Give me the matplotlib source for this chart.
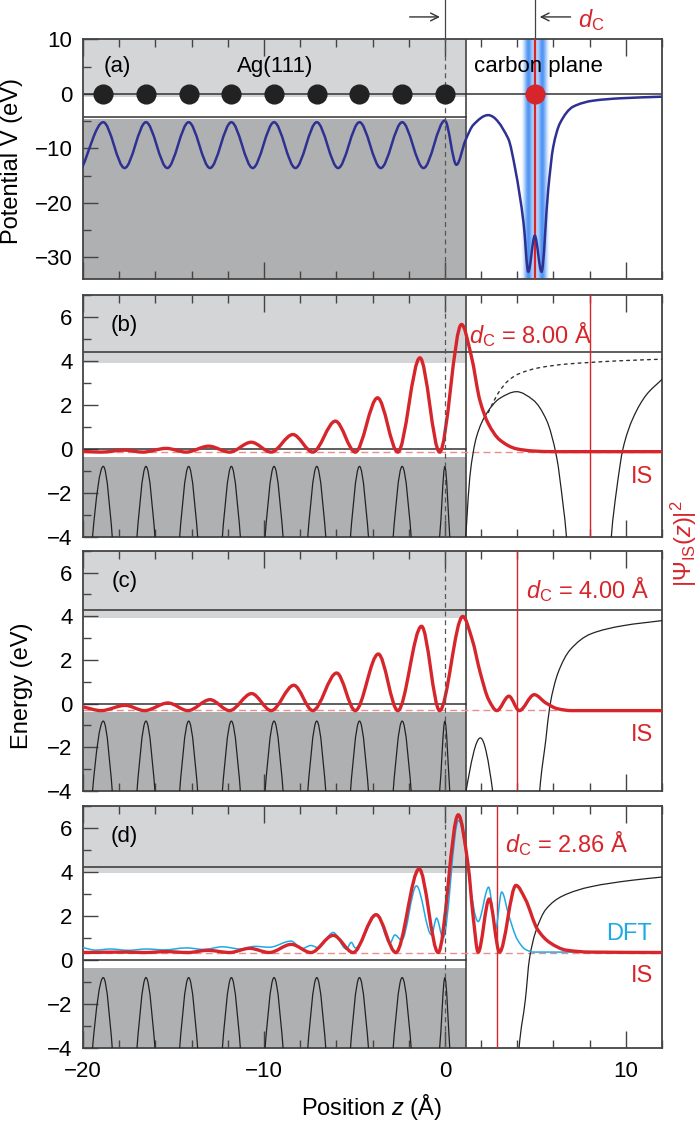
import numpy as np
import matplotlib.pyplot as plt
from matplotlib.path import Path
from matplotlib.patches import PathPatch
from matplotlib.ticker import MultipleLocator

plt.rcParams['font.family'] = ['Liberation Sans', 'DejaVu Sans']
plt.rcParams['mathtext.fontset'] = 'custom'
plt.rcParams['mathtext.rm'] = 'Liberation Sans'
plt.rcParams['mathtext.it'] = 'Liberation Sans:italic'
plt.rcParams['mathtext.bf'] = 'Liberation Sans:bold'

# ---- values ----
# Ag(111) atom positions (A)
atom_z = [-18.88, -16.52, -14.16, -11.80, -9.44, -7.08, -4.72, -2.36, 0.0]
d_c_a = 4.97

# (a) model potential V(z), knots at extrema / read points
pot_z = [-20.06, -18.88, -17.70, -16.52, -15.34, -14.16, -12.98, -11.80, -10.62, -9.44,
         -8.26, -7.08, -5.90, -4.72, -3.54, -2.36, -1.18, 0.00, 0.64, 1.14, 1.57, 2.39,
         3.50, 3.90, 4.35, 4.61, 4.97, 5.34, 5.71, 5.99, 6.36, 7.09, 8.20, 9.67, 12.0]
pot_v = [-13.6, -5.2, -13.6, -5.2, -13.6, -5.2, -13.6, -5.2, -13.6, -5.2,
         -13.6, -5.2, -13.6, -5.2, -13.6, -5.2, -13.6, -4.9, -13.0, -8.5, -5.7, -3.9,
         -8.2, -14.0, -23.7, -32.6, -26.0, -32.6, -17.6, -9.7, -5.4, -2.35, -1.25, -0.82, -0.52]

# (b)-(d) potential inside the crystal (energy scale, eV)
arc_z = [-20.06, -18.88, -17.70, -16.52, -15.34, -14.16, -12.98, -11.80, -10.62, -9.44,
         -8.26, -7.08, -5.90, -4.72, -3.54, -2.36, -1.18, -0.29, 0.00, 0.27, 0.64]
arc_e = [-9.2, -0.8, -9.2, -0.8, -9.2, -0.8, -9.2, -0.8, -9.2, -0.8,
         -9.2, -0.8, -9.2, -0.8, -9.2, -0.8, -9.2, -4.0, -0.8, -4.0, -8.7]

# potential outside the crystal for each carbon distance
vac_b_z = [1.15, 1.20, 1.38, 1.75, 2.30, 3.04, 3.96, 4.88, 5.62, 6.17, 6.54, 6.72,
           7.30, 8.00, 8.70, 9.20, 9.49, 9.85, 10.40, 11.14, 12.0]
vac_b_e = [-4.0, -3.4, -1.27, 0.55, 1.6, 2.3, 2.6, 2.22, 1.3, -0.35, -2.6, -4.0,
           -15.0, -25.0, -15.0, -4.0, -1.87, 0.03, 1.4, 2.46, 3.16]
vac_c_z = [1.17, 1.96, 2.64, 3.20, 4.00, 4.70, 5.24, 5.58, 5.80, 6.25, 6.93, 8.06, 9.86, 12.0]
vac_c_e = [-4.0, -1.57, -4.0, -15.0, -22.0, -15.0, -4.0, -1.65, -0.12, 1.4, 2.47, 3.19, 3.57, 3.8]
vac_d_z = [1.50, 2.86, 3.60, 4.10, 4.45, 4.67, 5.00, 5.58, 6.48, 8.06, 10.3, 12.0]
vac_d_e = [-14.0, -26.0, -15.0, -4.0, -1.79, 0.03, 1.24, 2.3, 2.9, 3.33, 3.62, 3.77]

# image potential without carbon plane, panel (b) (dotted)
img_z = [2.40, 2.60, 3.00, 3.50, 4.05, 5.15, 6.63, 8.00, 9.50, 12.0]
img_e = [1.65, 2.0, 2.6, 3.1, 3.4, 3.68, 3.85, 3.93, 4.0, 4.08]

# image-state densities |psi|^2, drawn on the IS energy
is_b_z = [-20.0, -19.0, -17.7, -16.7, -15.4, -14.3, -13.05, -11.9, -10.7, -9.6, -8.4, -7.3,
          -6.05, -4.95, -3.72, -2.6, -1.38, -0.29, 0.92, 1.47, 1.93, 2.39, 3.04, 3.96, 4.9, 6.0, 12.0]
is_b_e = [-0.12, -0.15, -0.06, -0.15, 0.02, -0.15, 0.12, -0.15, 0.30, -0.15, 0.65, -0.15,
          1.26, -0.15, 2.32, -0.15, 4.14, -0.15, 5.66, 4.19, 2.22, 1.16, 0.40, 0.0, -0.10, -0.13, -0.13]
is_c_z = [-20.0, -19.0, -17.67, -16.6, -15.3, -14.2, -12.98, -11.9, -10.68, -9.6, -8.35, -7.3,
          -5.98, -4.95, -3.68, -2.6, -1.29, -0.29, 0.99, 1.51, 1.96, 2.42, 2.87, 3.54, 4.11,
          4.94, 5.58, 6.25, 7.0, 12.0]
is_c_e = [-0.15, -0.32, -0.08, -0.32, 0.03, -0.32, 0.18, -0.32, 0.46, -0.32, 0.84, -0.32,
          1.40, -0.32, 2.27, -0.32, 3.54, -0.32, 3.99, 2.93, 1.40, 0.18, -0.32, 0.34, -0.32,
          0.41, 0.03, -0.24, -0.32, -0.32]
is_d_z = [-20.0, -17.7, -16.6, -15.4, -14.2, -13.1, -11.9, -10.79, -9.7, -8.49, -7.4, -6.17,
          -5.07, -3.8, -2.71, -1.42, -0.37, 0.74, 1.29, 1.56, 1.84, 2.45, 3.02, 3.93, 4.45,
          5.12, 5.8, 6.7, 8.0, 12.0]
is_d_e = [0.34, 0.36, 0.34, 0.38, 0.34, 0.44, 0.34, 0.53, 0.34, 0.71, 0.34, 1.12,
          0.34, 2.06, 0.34, 4.14, 0.34, 6.6, 4.27, 2.0, 0.36, 2.77, 0.36, 3.39, 2.76,
          1.39, 0.79, 0.45, 0.36, 0.34]

# DFT density, panel (d)
dft_z = [-20.0, -19.3, -18.5, -17.5, -16.5, -15.5, -14.3, -13.3, -12.3, -11.3, -10.5, -9.7,
         -8.5, -7.9, -7.4, -7.0, -6.17, -5.45, -5.17, -4.95, -3.75, -3.04, -2.76, -2.39,
         -1.57, -0.74, -0.46, -0.1, 0.75, 1.84, 2.42, 2.8, 3.14, 3.54, 4.0, 4.45, 4.9, 12.0]
dft_e = [0.56, 0.45, 0.5, 0.44, 0.5, 0.46, 0.55, 0.48, 0.6, 0.5, 0.62, 0.58,
         0.86, 0.52, 0.66, 0.56, 1.25, 0.5, 0.8, 0.55, 2.05, 0.76, 1.14, 0.9,
         3.37, 1.14, 1.9, 1.0, 6.35, 1.75, 3.31, 1.4, 3.09, 2.0, 0.94, 0.48, 0.36, 0.36]

panels = ['(b)', '(c)', '(d)']
d_c = [8.00, 4.00, 2.86]
e_vac = [4.39, 4.27, 4.23]
e_is = [-0.13, -0.31, 0.34]
gap_top = [3.92, 3.90, 3.94]
gap_bot = [-0.36, -0.40, -0.38]
is_label_e = [-1.29, -1.42, -0.73]
vac_z = [vac_b_z, vac_c_z, vac_d_z]
vac_e = [vac_b_e, vac_c_e, vac_d_e]
is_z = [is_b_z, is_c_z, is_d_z]
is_e = [is_b_e, is_c_e, is_d_e]

z_surf = 1.15
red = '#d6262c'
navy = '#2e3192'
dft_col = '#1ea9e6'
light_gray = '#d4d5d7'
dark_gray = '#afb0b2'
spine_col = '#444444'


def smooth_path(xs, ys):
    # monotone cubic through the knots, handed to matplotlib as bezier segments
    x = np.asarray(xs, float)
    y = np.asarray(ys, float)
    h = np.diff(x)
    d = np.diff(y) / h
    m = np.zeros_like(x)
    for k in range(1, len(x) - 1):
        if d[k - 1] * d[k] > 0:
            w1 = 2 * h[k] + h[k - 1]
            w2 = h[k] + 2 * h[k - 1]
            m[k] = (w1 + w2) / (w1 / d[k - 1] + w2 / d[k])
    m[0] = d[0]
    m[-1] = d[-1]
    verts = [(x[0], y[0])]
    codes = [Path.MOVETO]
    for k in range(len(h)):
        verts += [(x[k] + h[k] / 3, y[k] + m[k] * h[k] / 3),
                  (x[k + 1] - h[k] / 3, y[k + 1] - m[k + 1] * h[k] / 3),
                  (x[k + 1], y[k + 1])]
        codes += [Path.CURVE4] * 3
    return Path(verts, codes)


def add_curve(ax, xs, ys, **kw):
    ax.add_patch(PathPatch(smooth_path(xs, ys), fill=False, capstyle='round', **kw))


def style_axis(ax):
    ax.set_xlim(-20, 12)
    ax.xaxis.set_major_locator(MultipleLocator(10))
    ax.xaxis.set_minor_locator(MultipleLocator(2))
    ax.tick_params(which='both', direction='in', top=True, bottom=True, left=True, right=False,
                   labelsize=16, color=spine_col, width=1.0)
    ax.tick_params(axis='x', which='major', length=12, pad=9.5)
    ax.tick_params(axis='x', which='minor', length=6)
    ax.tick_params(axis='y', which='major', length=11, pad=7.5)
    ax.tick_params(axis='y', which='minor', length=5.5)
    for s in ax.spines.values():
        s.set_color(spine_col)
        s.set_linewidth(1.3)


fig = plt.figure(figsize=(7, 11.21), dpi=100)
H = 1121.0
left = 83 / 700
width = 579 / 700
tops = [39.3, 295.0, 550.7, 806.0]
bots = [279.3, 536.7, 791.0, 1048.0]
axes = [fig.add_axes([left, 1 - b / H, width, (b - t) / H]) for t, b in zip(tops, bots)]

# ---------------- panel (a) ----------------
ax = axes[0]
style_axis(ax)
ax.set_ylim(-34, 10)
ax.yaxis.set_major_locator(MultipleLocator(10))
ax.yaxis.set_minor_locator(MultipleLocator(5))
ax.fill_between([-20, z_surf], -0.5, 10, color=light_gray, lw=0, zorder=0)
ax.fill_between([-20, z_surf], -34, -4.6, color=dark_gray, lw=0, zorder=0)
ax.axvline(z_surf, color=spine_col, lw=1.2, zorder=2)
ax.axhline(0, color='#333333', lw=1.1, zorder=2)
ax.plot([-20, z_surf], [-4.3, -4.3], color='#333333', lw=1.1, zorder=2)

# glow around the carbon plane
gz = np.linspace(4.2, 5.75, 300)
win = 1 / (1 + np.exp(-(gz - 4.32) / 0.04)) / (1 + np.exp((gz - 5.63) / 0.04))
glow = win * (0.35 + 0.6 * (np.exp(-((gz - 4.6) / 0.17) ** 2) + np.exp(-((gz - 5.34) / 0.17) ** 2)))
img = np.zeros((1, gz.size, 4))
img[..., 0], img[..., 1], img[..., 2] = 0.27, 0.56, 0.96
img[..., 3] = np.clip(glow, 0, 1)
ax.imshow(img, extent=[4.2, 5.75, -34, 10], aspect='auto', zorder=1, interpolation='bilinear')
ax.set_xlim(-20, 12)
ax.set_ylim(-34, 10)

ax.axvline(d_c_a, color=red, lw=1.6, zorder=3)
add_curve(ax, pot_z, pot_v, ec=navy, lw=1.8, zorder=4)
ax.axvline(0, color='#555555', lw=0.9, dashes=(4, 3), zorder=5)
ax.plot(atom_z, np.zeros(len(atom_z)), 'o', ms=13.5, color='#222222', zorder=6)
ax.plot([d_c_a], [0], 'o', ms=13.5, color=red, zorder=6)

ax.text(-18.1, 5.0, '(a)', fontsize=16, ha='center', va='center')
ax.text(-9.4, 5.0, 'Ag(111)', fontsize=16, ha='center', va='center')
ax.text(1.6, 5.0, 'carbon plane', fontsize=16, ha='left', va='center')

# markers above the panel
ax.plot([0, 0], [10, 17.2], color='#444444', lw=0.9, clip_on=False)
ax.plot([d_c_a, d_c_a], [10, 17.2], color='#444444', lw=0.9, clip_on=False)
ax.annotate('', xy=(-0.12, 14.1), xytext=(-2.1, 14.1), annotation_clip=False,
            arrowprops=dict(arrowstyle='->', lw=1.0, color='#333333', mutation_scale=14))
ax.annotate('', xy=(d_c_a + 0.12, 14.1), xytext=(7.1, 14.1), annotation_clip=False,
            arrowprops=dict(arrowstyle='->', lw=1.0, color='#333333', mutation_scale=14))
ax.text(7.35, 13.6, r'$d_{\mathrm{C}}$', color=red, fontsize=17, ha='left', va='center')
ax.tick_params(labelbottom=False)

# ---------------- panels (b)-(d) ----------------
for i, ax in enumerate(axes[1:]):
    style_axis(ax)
    ax.set_ylim(-4, 7)
    ax.yaxis.set_major_locator(MultipleLocator(2))
    ax.yaxis.set_minor_locator(MultipleLocator(1))
    ax.fill_between([-20, z_surf], gap_top[i], 7, color=light_gray, lw=0, zorder=0)
    ax.fill_between([-20, z_surf], -4, gap_bot[i], color=dark_gray, lw=0, zorder=0)
    ax.axvline(z_surf, color=spine_col, lw=1.2, zorder=2)
    ax.axhline(e_vac[i], color='#333333', lw=1.1, zorder=2)
    ax.plot([-20, z_surf], [0, 0], color='#333333', lw=1.1, zorder=2)
    ax.axhline(e_is[i], color='#ee8c8c', lw=1.0, dashes=(5, 3), zorder=2)
    ax.axvline(d_c[i], color=red, lw=1.0, zorder=3)

    add_curve(ax, arc_z + vac_z[i], arc_e + vac_e[i], ec='#222222', lw=0.9, zorder=3)
    if i == 0:
        add_curve(ax, img_z, img_e, ec='#333333', lw=1.0, ls=(0, (2, 3)), zorder=3)
    if i == 2:
        add_curve(ax, dft_z, dft_e, ec=dft_col, lw=1.1, zorder=4)
        ax.text(10.2, 1.2, 'DFT', color=dft_col, fontsize=17, ha='center', va='center')
    add_curve(ax, is_z[i], is_e[i], ec=red, lw=2.4, zorder=5)
    ax.axvline(0, color='#555555', lw=0.9, dashes=(4, 3), zorder=6)

    ax.text(-17.7, 5.6, panels[i], fontsize=16, ha='center', va='center')
    ax.text(10.9, is_label_e[i], 'IS', color=red, fontsize=17, ha='center', va='center')
    dc_x = [1.35, 4.5, 3.3][i]
    dc_y = [5.2, 5.2, 5.3][i]
    ax.text(dc_x, dc_y, r'$d_{\mathrm{C}}$' + ' = %.2f Å' % d_c[i], color=red, fontsize=17,
            ha='left', va='center')
    if i < 2:
        ax.tick_params(labelbottom=False)

fig.text(372 / 700, 1 - 1107 / H, r'Position $z$ (Å)', fontsize=17, ha='center', va='center')
fig.text(12 / 700, 1 - 161 / H, 'Potential V (eV)', rotation=90, fontsize=17,
         ha='center', va='center')
fig.text(22 / 700, 1 - 686 / H, 'Energy (eV)', rotation=90, fontsize=17, ha='center', va='center')
fig.text(684 / 700, 1 - 544 / H, r'$|\Psi_{\mathrm{IS}}(z)|^2$', rotation=90, fontsize=17,
         color=red, ha='center', va='center')

fig.savefig('out.png', dpi=100)
